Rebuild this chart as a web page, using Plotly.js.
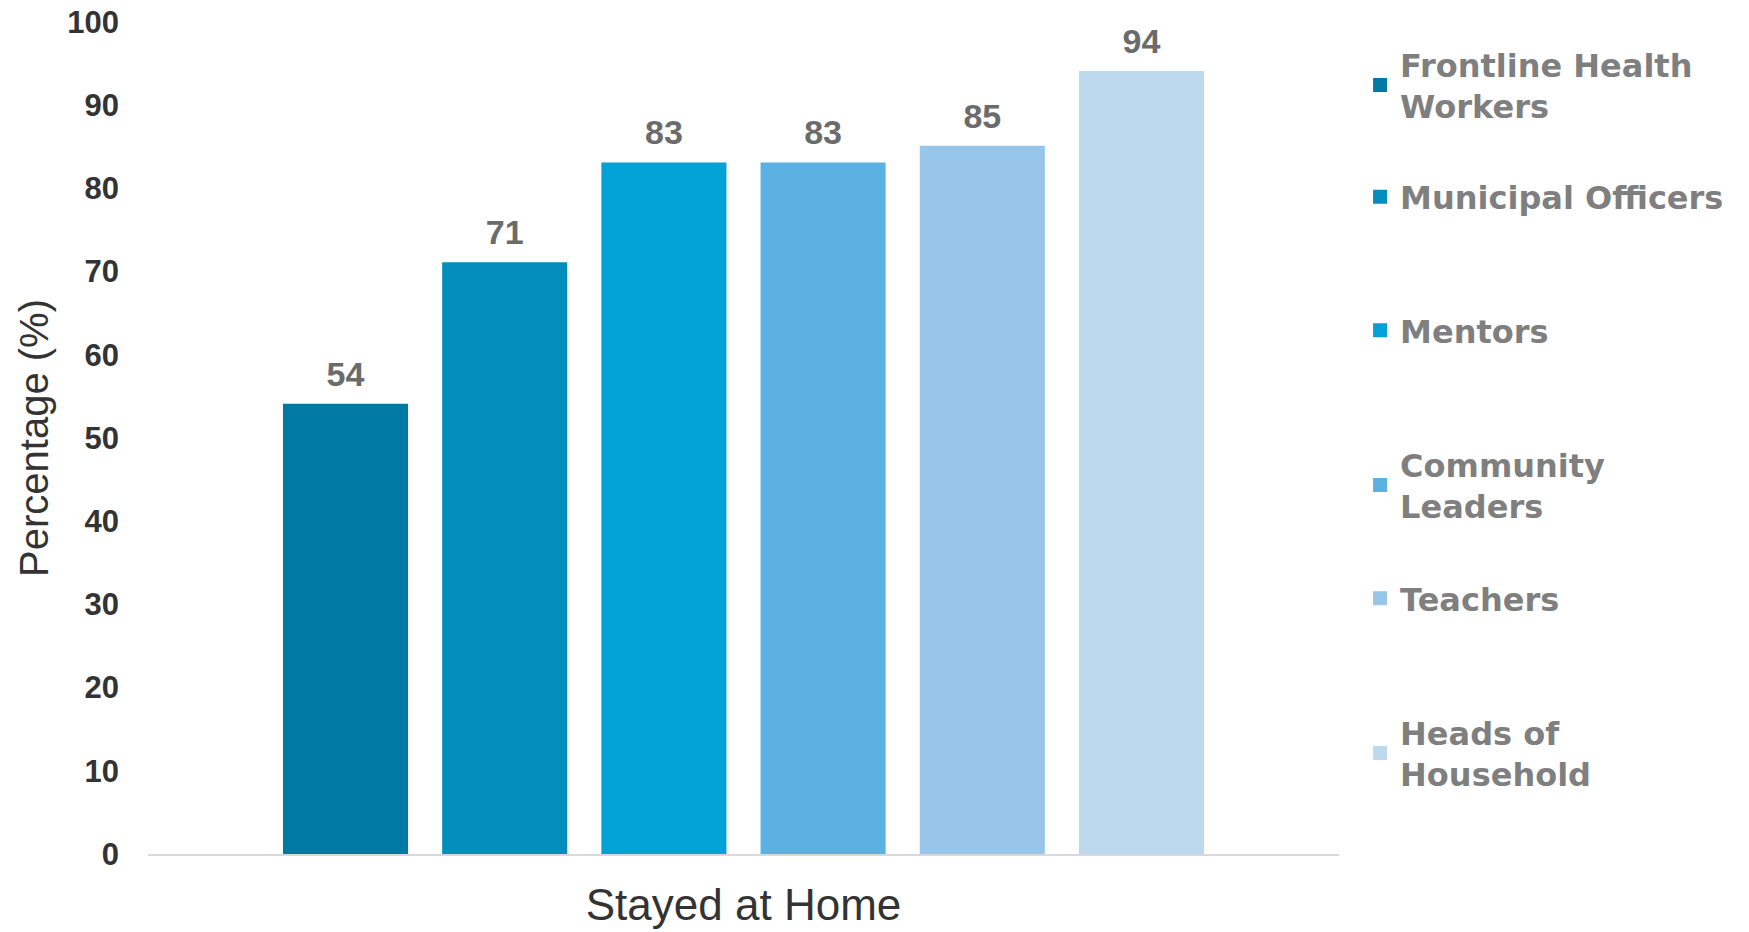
<!DOCTYPE html>
<html>
<head>
<meta charset="utf-8">
<script src="https://cdn.plot.ly/plotly-3.0.1.min.js"></script>
<style>html,body{margin:0;padding:0;background:#fff;}#chart{width:1749px;height:932px;}</style>
</head>
<body>
<div id="chart"></div>
<script>
// ---- data ----
const categories = ["Stayed at Home"];
const seriesNames = [
  "Frontline Health<br>Workers",
  "Municipal Officers",
  "Mentors",
  "Community<br>Leaders",
  "Teachers",
  "Heads of<br>Household"
];
const frontlineHealthWorkers = [54];
const municipalOfficers = [71];
const mentors = [83];
const communityLeaders = [83];
const teachers = [85];
const headsOfHousehold = [94];
const seriesValues = [frontlineHealthWorkers, municipalOfficers, mentors, communityLeaders, teachers, headsOfHousehold];
const yTickValues = [0, 10, 20, 30, 40, 50, 60, 70, 80, 90, 100];

// ---- style ----
const colors = ["#0079a4", "#038ebd", "#02a1d6", "#5cb1e3", "#97c6ea", "#bdd9ee"];
const legendTops = [0.982, 0.8227, 0.6623, 0.5012, 0.3401, 0.1791];
const LABEL_GAP = 1.1; // visual gap (axis units) between bar top and its value label
const FONT = "Liberation Sans, Arial, sans-serif";

const legendKey = i => (i === 0 ? "legend" : "legend" + (i + 1));

const barTraces = seriesNames.map((name, i) => ({
  type: "bar",
  name: name,
  x: categories,
  y: seriesValues[i],
  offsetgroup: "g" + i,
  legend: legendKey(i),
  marker: { color: colors[i], line: { color: colors[i], width: 2 } },
  hoverinfo: "skip"
}));

// transparent spacer bars sitting on top of each bar, carrying the value labels
const labelTraces = seriesNames.map((name, i) => ({
  type: "bar",
  name: name,
  x: categories,
  base: seriesValues[i],
  y: seriesValues[i].map(() => LABEL_GAP),
  offsetgroup: "g" + i,
  legend: legendKey(i),
  showlegend: false,
  marker: { color: "rgba(0,0,0,0)" },
  text: seriesValues[i].map(String),
  textposition: "outside",
  constraintext: "none",
  cliponaxis: false,
  textfont: { family: FONT, size: 34, color: "#6b6b6b", weight: "bold" },
  hoverinfo: "skip"
}));

const layout = {
  width: 1749,
  height: 932,
  margin: { l: 148, r: 410, t: 22, b: 78 },
  paper_bgcolor: "#ffffff",
  plot_bgcolor: "#ffffff",
  barmode: "group",
  bargap: 0.198,
  bargroupgap: 0.227,
  showlegend: true,
  xaxis: {
    type: "category",
    range: [-0.5, 0.5],
    showline: true,
    linecolor: "#d9d9d9",
    linewidth: 2,
    showgrid: false,
    zeroline: false,
    ticks: "",
    ticklabelstandoff: 11,
    tickfont: { family: FONT, size: 44, color: "#333333" },
    fixedrange: true
  },
  yaxis: {
    range: [0, 100],
    tickvals: yTickValues,
    ticktext: yTickValues.map(String),
    showline: false,
    showgrid: false,
    zeroline: false,
    ticks: "",
    ticklabelstandoff: 28,
    tickfont: { family: FONT, size: 31, color: "#333333", weight: "bold" },
    title: { text: "Percentage (%)", font: { family: FONT, size: 40, color: "#333333" }, standoff: 6 },
    fixedrange: true
  }
};

legendTops.forEach((top, i) => {
  layout[legendKey(i)] = {
    x: 1.0177,
    xanchor: "left",
    y: top,
    yanchor: "top",
    bgcolor: "rgba(0,0,0,0)",
    borderwidth: 0,
    font: { family: "DejaVu Sans, sans-serif", size: 32, color: "#7f7f7f", weight: "bold" },
    itemclick: false,
    itemdoubleclick: false
  };
});

Plotly.newPlot("chart", barTraces.concat(labelTraces), layout, { displayModeBar: false, staticPlot: true });
</script>
</body>
</html>
